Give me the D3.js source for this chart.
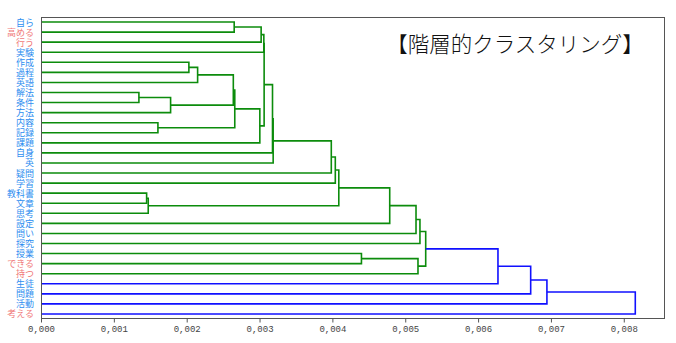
<!DOCTYPE html>
<html>
<head>
<meta charset="utf-8">
<script src="https://cdn.jsdelivr.net/npm/d3@7"></script>
<style>
  html, body { margin: 0; padding: 0; background: #fff; }
  svg { display: block; }
</style>
</head>
<body>
<svg id="chart" width="676" height="343"></svg>
<script>
// Leaf words, listed top to bottom as they appear on the dendrogram
const leaves = ["自ら","高める","行う","実験","作成","過程","英語","解法","条件","方法",
  "内容","記録","課題","自身","英","疑問","学習","教科書","文章","思考",
  "設定","問い","探究","授業","できる","持つ","生徒","問題","活動","考える"];

// Part of speech for each leaf: "n" = noun, "v" = verb
const leafKind = ["n","v","v","n","n","n","n","n","n","n",
  "n","n","n","n","n","n","n","n","n","n",
  "n","n","n","n","v","v","n","n","n","v"];

// Linkage rows: [childA, childB, distance]; ids >= leaves.length refer to earlier rows
const linkA = [0,30,31, 4,33, 7,35,34,10,37,39,32,41,42,43,44,17,46,45,48,49,50,23,52,51,54,55,56,57];
const linkB = [1, 2, 3, 5, 6, 8, 9,36,11,38,12,40,13,14,15,16,18,19,47,20,21,22,24,25,53,26,27,28,29];
const linkDist = [0.002652,0.003022,0.003059,0.002030,0.002150,0.001344,0.001779,0.002640,
  0.001605,0.002660,0.003004,0.003063,0.003178,0.003187,0.003985,0.004040,0.001450,0.001472,
  0.004088,0.004787,0.005148,0.005202,0.004399,0.005175,0.005281,0.006273,0.006722,0.006945,0.008158];

// Axis tick values
const tickValues = [0, 0.001, 0.002, 0.003, 0.004, 0.005, 0.006, 0.007, 0.008];

const titleText = "【階層的クラスタリング】";

const svg = d3.select("#chart");
const margin = { left: 41, right: 11, top: 17, bottom: 24 };
const W = 676, H = 343;
const plotR = W - margin.right, plotB = H - margin.bottom;

const maxDist = d3.max(linkDist);
const x = d3.scaleLinear().domain([0, maxDist * 1.05]).range([margin.left, plotR]);
const y = d3.scaleLinear().domain([0, leaves.length]).range([margin.top, plotB]);

const colorThreshold = 0.7 * maxDist;
const clusterColor = "#0c8c0c";
const aboveColor = "#1010ff";

// Node positions: leaves sit at band centres, merged nodes at the mean of their children
const N = leaves.length;
const pos = leaves.map((d, i) => ({ y: i + 0.5, h: 0 }));
const links = [];
linkA.forEach((a, k) => {
  const b = linkB[k], h = linkDist[k];
  const pa = pos[a], pb = pos[b];
  links.push({ a: pa, b: pb, h });
  pos.push({ y: (pa.y + pb.y) / 2, h });
});

const g = svg.append("g");

// Draw each link as a bracket: child A -> merge height -> child B
g.selectAll("path.link")
  .data(links)
  .join("path")
  .attr("class", "link")
  .attr("fill", "none")
  .attr("stroke", d => d.h > colorThreshold ? aboveColor : clusterColor)
  .attr("stroke-width", 1.6)
  .attr("d", d => {
    const p = d3.path();
    p.moveTo(x(d.a.h), y(d.a.y));
    p.lineTo(x(d.h), y(d.a.y));
    p.lineTo(x(d.h), y(d.b.y));
    p.lineTo(x(d.b.h), y(d.b.y));
    return p.toString();
  });

// Frame
svg.append("rect")
  .attr("x", margin.left + 0.5).attr("y", margin.top + 0.5)
  .attr("width", plotR - margin.left - 1).attr("height", plotB - margin.top - 1)
  .attr("fill", "none").attr("stroke", "#555").attr("stroke-width", 1);

// Bottom axis with comma decimal separator
const locale = d3.formatLocale({ decimal: ",", thousands: " ", grouping: [3], currency: ["", ""] });
const fmt = locale.format(".3f");
const axis = d3.axisBottom(x).tickValues(tickValues).tickFormat(fmt).tickSize(4).tickPadding(3);
const ax = svg.append("g")
  .attr("transform", `translate(0,${plotB - 0.5})`)
  .call(axis);
ax.select(".domain").remove();
ax.selectAll(".tick line").attr("stroke", "#555");
ax.selectAll(".tick text")
  .attr("fill", "#444")
  .style("font-family", "'Liberation Mono', 'DejaVu Sans Mono', monospace")
  .style("font-size", "9px");

// Leaf labels
svg.append("g").selectAll("text")
  .data(leaves)
  .join("text")
  .attr("x", 34)
  .attr("y", (d, i) => y(i + 0.5))
  .attr("text-anchor", "end")
  .attr("dominant-baseline", "central")
  .attr("fill", (d, i) => leafKind[i] === "v" ? "#f07a7a" : "#2e8ef0")
  .style("font-family", "'Noto Sans CJK JP', sans-serif")
  .style("font-size", "9px")
  .text(d => d);

// Title
svg.append("text")
  .attr("x", 515).attr("y", 52)
  .attr("text-anchor", "middle")
  .attr("fill", "#111")
  .style("font-family", "'Noto Sans CJK JP', sans-serif")
  .style("font-weight", "300")
  .style("font-size", "21.5px")
  .text(titleText);
</script>
</body>
</html>
